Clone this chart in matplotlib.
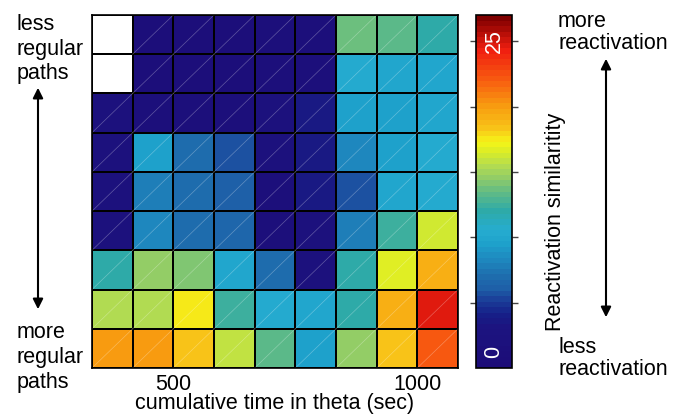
import numpy as np
import matplotlib.pyplot as plt
from matplotlib.colors import LinearSegmentedColormap

plt.rcParams['font.family'] = ['Liberation Sans', 'DejaVu Sans']

# reactivation similarity, rows top (less regular) -> bottom (more regular)
nan = np.nan
sim = np.array([
    [nan, 1.2, 1.2, 1.2, 1.3, 1.5, 13.8, 13.3, 12.0],
    [nan, 1.2, 1.2, 1.2, 1.3, 1.5, 10.5, 10.0, 10.1],
    [1.8, 1.6, 1.4, 1.3, 1.8, 3.5, 9.7, 9.6, 10.1],
    [1.8, 9.6, 6.8, 5.6, 1.8, 3.5, 8.3, 9.7, 10.2],
    [1.8, 7.6, 6.8, 6.2, 1.6, 3.4, 5.6, 9.9, 10.2],
    [1.8, 8.3, 6.8, 6.6, 1.6, 2.0, 7.6, 12.5, 16.4],
    [12.0, 14.7, 14.2, 10.1, 6.8, 1.8, 12.0, 16.8, 19.2],
    [15.5, 15.5, 17.3, 12.5, 10.5, 9.9, 12.0, 19.2, 24.5],
    [20.0, 20.0, 18.5, 16.0, 13.3, 9.6, 14.5, 18.5, 22.0],
])
t_edges = np.linspace(1000 / 3, 3250 / 3, 10)   # cumulative time bins (sec)
xticks = [500, 1000]
vmin, vmax = 0, 27
cb_ticks = [5, 10, 15, 20, 25]

# jet-like colour map with a dark indigo start
anchors = [(0, '#1c0c78'), (3, '#1c1480'), (4, '#162088'), (5, '#1a3c98'),
           (6, '#1e60a8'), (7, '#1e6eae'), (8, '#1e84bc'), (9.5, '#1ea2cc'),
           (10.5, '#26acd0'), (12, '#2eaaa8'), (13.5, '#62bc84'),
           (14.5, '#90cc68'), (15.5, '#b4dc50'), (16.5, '#d8ec28'),
           (17.3, '#f5f518'), (18.5, '#f8c018'), (20, '#f8a010'),
           (22, '#f86010'), (24.5, '#f01e10'), (27, '#800000')]
cmap = LinearSegmentedColormap.from_list(
    'react', [(v / vmax, c) for v, c in anchors], N=64)
cmap.set_bad('white')

fig = plt.figure(figsize=(6.79, 4.20), dpi=100)
ax = fig.add_axes([92 / 679, 52 / 420, 366 / 679, 353 / 420])
rows = np.arange(sim.shape[0] + 1)
mesh = ax.pcolormesh(t_edges, rows, np.ma.masked_invalid(sim), cmap=cmap,
                     vmin=vmin, vmax=vmax, edgecolors='black', linewidth=1.2)
# faint diagonal seams inside every cell
for i in range(sim.shape[0]):
    for j in range(sim.shape[1]):
        if not np.isnan(sim[i, j]):
            ax.plot([t_edges[j], t_edges[j + 1]], [i + 1, i], color='white',
                    lw=0.5, alpha=0.3)
ax.set_xlim(t_edges[0], t_edges[-1])
ax.set_ylim(rows[-1], rows[0])
ax.set_xticks(xticks)
ax.set_xticklabels([str(x) for x in xticks], fontsize=15.5)
ax.set_yticks([])
ax.tick_params(axis='x', length=0, pad=4)
ax.set_xlabel('cumulative time in theta (sec)', fontsize=15.5, labelpad=-1)
for s in ax.spines.values():
    s.set_linewidth(1.2)

cax = fig.add_axes([476 / 679, 52 / 420, 36 / 679, 353 / 420])
cb = fig.colorbar(mesh, cax=cax, ticks=cb_ticks)
cb.ax.set_yticklabels([''] * len(cb_ticks))
cb.ax.tick_params(left=True, right=True, direction='out', length=4,
                  width=1, color='#444444')
cb.outline.set_linewidth(1.2)
cax.text(0.5, 1.2, '0', transform=cax.get_yaxis_transform(), rotation=90,
         color='white', fontsize=15.5, ha='center', va='center')
cax.text(0.5, 25, '25', transform=cax.get_yaxis_transform(), rotation=90,
         color='white', fontsize=15.5, ha='center', va='center')

fs = 15.5
fig.text(17 / 679, 1 - 14 / 420, 'less\nregular\npaths', fontsize=fs,
         va='top', ha='left', linespacing=1.22)
fig.text(17 / 679, 1 - 393 / 420, 'more\nregular\npaths', fontsize=fs,
         va='bottom', ha='left', linespacing=1.24)
fig.text(558 / 679, 1 - 11 / 420, 'more\nreactivation', fontsize=fs,
         va='top', ha='left', linespacing=1.05)
fig.text(558 / 679, 1 - 380 / 420, 'less\nreactivation', fontsize=fs,
         va='bottom', ha='left', linespacing=1.05)
fig.text(556 / 679, 1 - 222 / 420, 'Reactivation similaritity', fontsize=fs,
         rotation=90, ha='center', va='center')

arrow = dict(arrowstyle='<|-|>', color='black', lw=1.5, mutation_scale=15)
fig.add_artist(plt.Annotation('', xy=(38 / 679, 1 - 85 / 420),
                              xytext=(38 / 679, 1 - 312 / 420),
                              xycoords='figure fraction',
                              textcoords='figure fraction', arrowprops=arrow))
fig.add_artist(plt.Annotation('', xy=(606 / 679, 1 - 56 / 420),
                              xytext=(606 / 679, 1 - 320 / 420),
                              xycoords='figure fraction',
                              textcoords='figure fraction', arrowprops=arrow))

fig.savefig('out.png', dpi=100)
